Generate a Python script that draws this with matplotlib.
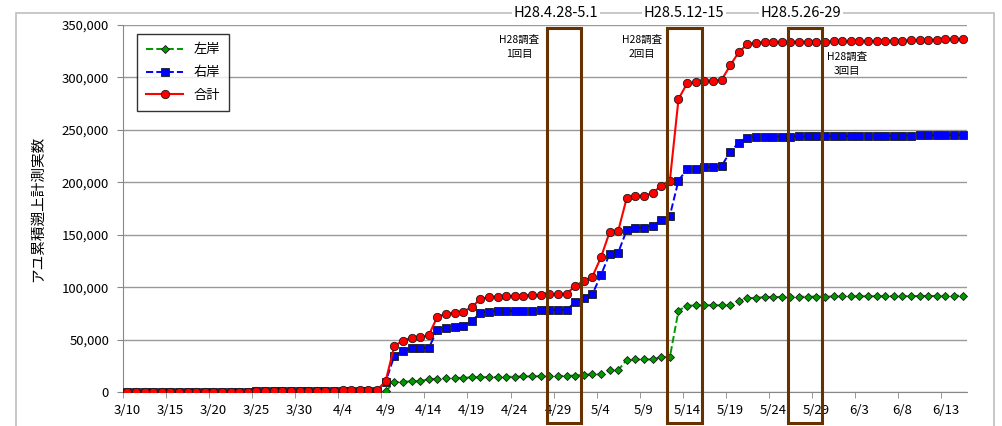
import matplotlib
matplotlib.use("Agg")
import matplotlib.pyplot as plt
import matplotlib.transforms as mtransforms
from matplotlib.patches import Rectangle
import pandas as pd

plt.rcParams['font.family'] = ['Noto Sans CJK JP', 'DejaVu Sans']

# daily dates 3/10 .. 6/15 (H28 = 2016)
dates = pd.date_range('2016-03-10', '2016-06-15')
dateLabels = [str(d.month) + '/' + str(d.day) for d in dates]

# 左岸 (left bank)
leftBank = [0, 0, 0, 0, 0, 0, 0, 0, 0, 0,
            0, 0, 0, 0, 0, 0, 0, 0, 0, 0,
            0, 50, 100, 150, 200, 250, 300, 300, 300, 300,
            800, 9200, 9900, 10100, 10300, 12200, 12600, 13000, 13300, 13600,
            13900, 14100, 14200, 14400, 14500, 14600, 14800, 14900, 15000, 15100,
            15300, 15400, 15600, 16600, 16700, 16900, 20700, 20900, 30800, 31000,
            31000, 31100, 33200, 33400, 77600, 82300, 82600, 82700, 82700, 82700,
            82800, 86800, 89400, 90000, 90400, 90600, 90700, 90800, 90900, 90900,
            91000, 91000, 91100, 91100, 91200, 91200, 91300, 91300, 91300, 91400,
            91400, 91500, 91500, 91600, 91600, 91700, 91800, 91900]

# 右岸 (right bank)
rightBank = [0, 0, 0, 0, 0, 0, 0, 0, 50, 100,
             150, 200, 300, 400, 450, 500, 550, 600, 650, 700,
             750, 800, 850, 950, 1200, 1250, 1250, 1300, 1300, 1350,
             9700, 34400, 39100, 41700, 41800, 41900, 59200, 61400, 62300, 63000,
             67700, 75700, 76600, 77000, 77100, 77300, 77500, 77700, 77900, 78100,
             78200, 78300, 85600, 89200, 93200, 111600, 131700, 132900, 154600, 156500,
             156800, 158700, 163800, 168200, 201700, 212500, 212600, 214400, 214500, 215300,
             229300, 237600, 242700, 243000, 243300, 243500, 243600, 243600, 243700, 243700,
             243800, 243800, 243900, 243900, 244000, 244000, 244100, 244200, 244300, 244400,
             244500, 244600, 244700, 244800, 244900, 245000, 245100, 245200]

# 合計 (total)
total = [0, 0, 0, 0, 0, 0, 0, 0, 50, 100,
         150, 200, 300, 400, 450, 500, 550, 600, 650, 700,
         750, 850, 950, 1100, 1400, 1500, 1550, 1600, 1600, 1650,
         10500, 43900, 49000, 51800, 52200, 54000, 71900, 74400, 75700, 76600,
         81000, 88700, 90600, 91000, 91300, 91600, 92000, 92300, 92600, 93000,
         93500, 93700, 101000, 106000, 110000, 128500, 152400, 153600, 185400, 187000,
         187300, 189600, 196900, 201700, 279300, 294500, 295300, 296800, 297000, 297500,
         311400, 324100, 331700, 333000, 333500, 333700, 333800, 333900, 334000, 334000,
         334100, 334200, 334300, 334400, 334500, 334600, 334700, 334800, 334900, 335000,
         335200, 335400, 335600, 335800, 336000, 336200, 336400, 336600]

# survey periods (first day index, last day index)
surveyPeriods = [(49, 52), (63, 66), (77, 80)]
periodLabels = ['H28.4.28-5.1', 'H28.5.12-15', 'H28.5.26-29']
surveyLabels = ['H28調査\n1回目', 'H28調査\n2回目', 'H28調査\n3回目']

W, H = 1002, 426
fig = plt.figure(figsize=(W / 100, H / 100), dpi=100)
ax = fig.add_axes([123 / W, 1 - 392 / H, 844 / W, 367 / H])

x = list(range(len(dateLabels)))
ax.plot(x, leftBank, color='#009900', ls='--', lw=1.4, marker='D', ms=4,
        mfc='#009900', mec='#1a1a1a', mew=0.6, label='左岸', zorder=3)
ax.plot(x, rightBank, color='#0000ff', ls='--', lw=1.4, marker='s', ms=5.5,
        mfc='#0000ff', mec='#1a1a1a', mew=0.6, label='右岸', zorder=4)
ax.plot(x, total, color='#ff0000', ls='-', lw=1.5, marker='o', ms=6,
        mfc='#ff0000', mec='#1a1a1a', mew=0.6, label='合計', zorder=5)

ax.set_xlim(-0.5, len(x) - 0.5)
ax.set_ylim(0, 350000)
ax.set_yticks(range(0, 350001, 50000))
ax.set_yticklabels(['{:,}'.format(v) for v in range(0, 350001, 50000)], fontsize=9.5)
ax.set_xticks(x[::5])
ax.set_xticklabels(dateLabels[::5], fontsize=9.5)
ax.set_xticks([i - 0.5 for i in x[::5]], minor=True)
ax.tick_params(axis='x', which='major', length=0, pad=9)
ax.tick_params(axis='x', which='minor', length=4, color='#888888')
ax.tick_params(axis='y', length=4, color='#888888', pad=6)
ax.grid(axis='y', color='#999999', lw=1)
ax.set_axisbelow(True)
for side in ['top', 'right']:
    ax.spines[side].set_visible(False)
for side in ['left', 'bottom']:
    ax.spines[side].set_color('#888888')

ax.set_ylabel('アユ累積遡上計測実数', fontsize=10.5, labelpad=12)

leg = ax.legend(loc='upper left', bbox_to_anchor=(14 / 844, (392 - 34) / 367),
                borderaxespad=0, fancybox=False, fontsize=9.5, handlelength=2.8,
                numpoints=1, labelspacing=0.75, borderpad=0.7)
leg.get_frame().set_edgecolor('black')
leg.get_frame().set_linewidth(1.0)

# survey boxes (data x, axes y, running below the axis)
trans = mtransforms.blended_transform_factory(ax.transData, ax.transAxes)
for start, end in surveyPeriods:
    ax.add_patch(Rectangle((start - 0.3, -0.085), end - start + 1.0, 0.993 + 0.085,
                           transform=trans, fill=False, ec='#663300', lw=2.2,
                           clip_on=False, zorder=6))

# outer chart frame
fig.add_artist(Rectangle((16 / W, -0.1), (994 - 16) / W, 1.1 - 13 / H,
                         transform=fig.transFigure, fill=False, ec='#bfbfbf', lw=1.2))

# period titles on the frame line
for txt, xc in zip(periodLabels, [556, 684, 801]):
    fig.text(xc / W, 1 - 13 / H, txt, ha='center', va='center', fontsize=10.5,
             bbox=dict(fc='white', ec='none', pad=1.5))

# survey notes
for txt, xc, yc in zip(surveyLabels, [519, 642, 847], [47, 47, 64]):
    fig.text(xc / W, 1 - yc / H, txt, ha='center', va='center', fontsize=7.5,
             linespacing=1.5)

fig.savefig('out.png', dpi=100)
